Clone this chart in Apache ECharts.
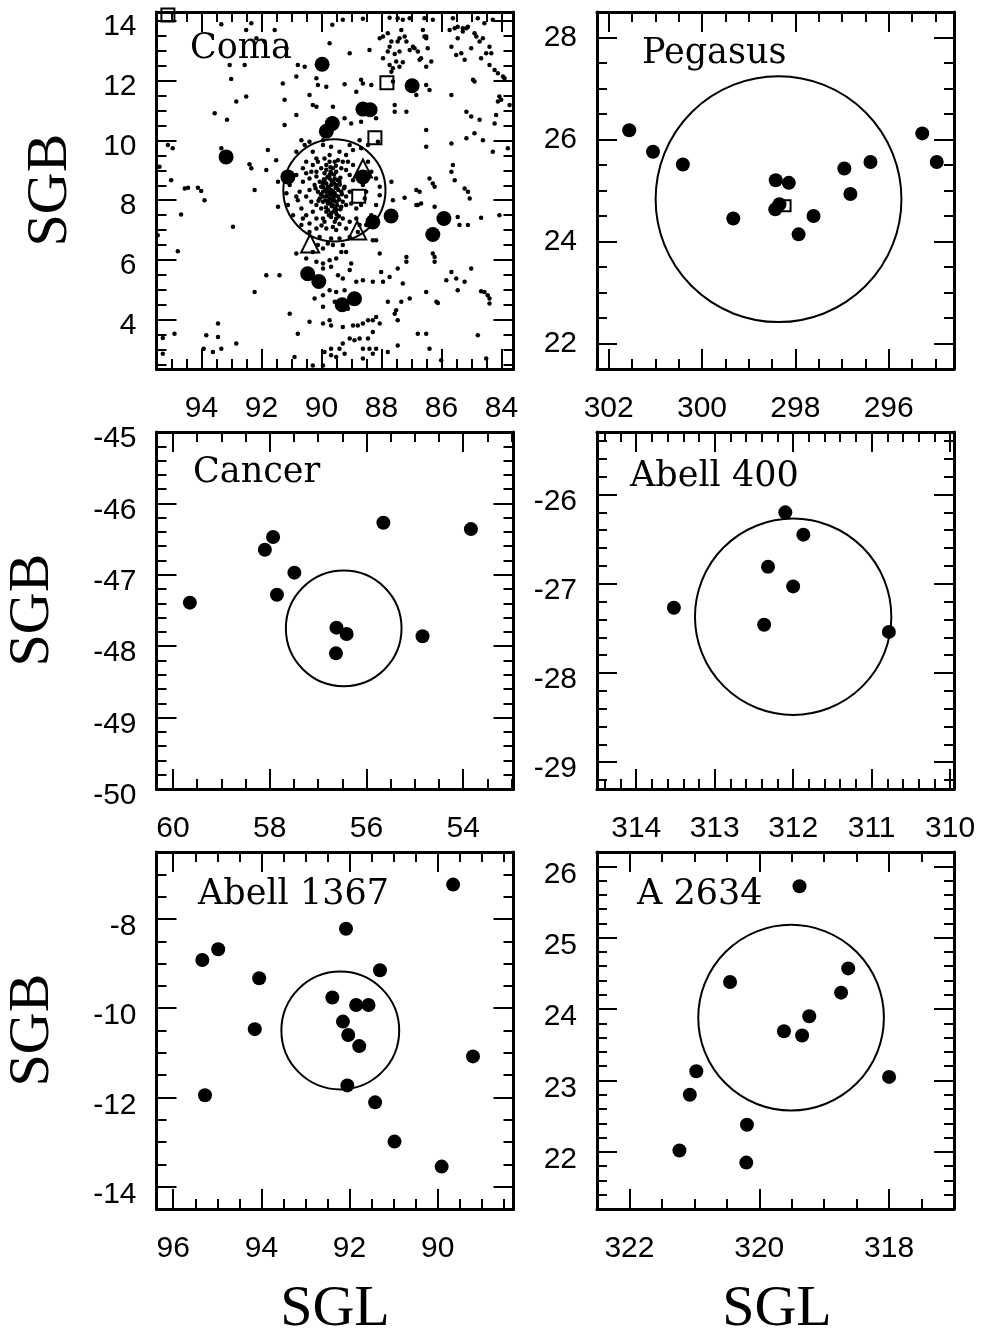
<!DOCTYPE html>
<html>
<head>
<meta charset="utf-8">
<script src="https://cdn.jsdelivr.net/npm/echarts@6/dist/echarts.min.js"></script>
<style>
  html, body { margin: 0; padding: 0; background: #fff; }
  #chart { width: 984px; height: 1336px; }
</style>
</head>
<body>
<div id="chart"></div>
<script>
// ---------------- Coma ----------------
// faint galaxies of the field (SGL, SGB)
const comaGalaxies = [
  [93.34,13.89],[92.51,13.70],[92.34,13.92],[91.56,13.70],[89.64,13.87],[89.29,14.04],[88.62,14.07],[87.73,14.11],[87.46,14.09],[87.29,14.04],
  [87.06,14.09],[86.57,14.09],[86.29,14.04],[85.62,14.09],[85.46,13.81],[85.29,13.76],[85.12,13.81],[84.79,14.09],[84.57,13.92],[84.29,14.04],
  [87.95,13.48],[87.79,13.59],[87.34,13.70],[87.23,13.48],[86.62,13.70],[86.51,13.48],[84.90,13.59],[84.62,13.42],
  [93.06,12.53],[92.56,12.53],[92.17,13.42],[91.90,13.31],[91.17,13.09],[90.79,12.53],[90.56,12.47],[89.73,13.25],[89.06,12.92],[88.40,13.03],
  [88.06,13.42],[87.73,13.14],[87.56,12.89],[87.46,13.31],[87.40,12.98],[87.17,13.31],[86.95,13.14],[86.79,12.98],[86.68,12.75],[86.51,13.42],
  [86.46,13.09],[86.34,12.64],[85.67,13.14],[85.46,13.42],[85.34,12.92],[85.01,13.09],[84.68,12.75],[84.51,12.92],[84.40,13.14],[84.34,12.92],
  [84.40,12.53],[84.23,12.36],[87.51,12.64],[87.29,12.62],[87.73,12.53],[87.95,12.75],
  [87.67,13.31],[87.79,12.98],[87.40,13.42],[87.06,13.03],[86.90,13.09],[86.73,12.70],[86.57,13.48],[87.40,12.47],[87.62,12.42],[86.51,12.47],
  [85.73,13.70],[85.56,13.76],[85.29,13.65],[85.17,13.76],[85.51,12.86],[85.23,12.70],[84.84,13.48],[84.73,13.31],[84.12,12.25],[83.95,12.14],
  [84.90,11.97],[84.01,11.36],
  [93.01,12.06],[92.84,11.30],[92.51,11.47],[91.29,11.91],[91.23,11.36],[90.84,12.14],[90.40,11.52],[90.29,11.19],[90.17,12.08],[90.12,11.86],
  [89.84,11.80],[89.23,11.88],[88.84,11.63],[88.68,12.03],[88.62,11.91],[88.34,11.86],[87.67,12.30],[87.62,11.97],[87.56,11.19],[86.84,11.52],
  [86.51,11.86],[86.40,11.69],[85.67,11.52],[84.95,12.03],[84.12,11.30],[83.90,12.08],[83.73,11.19],[84.07,11.47],
  [93.56,10.91],[93.15,10.69],[91.23,10.52],[90.84,10.85],[90.17,11.13],[89.62,11.13],[89.23,10.74],[89.01,10.57],[88.68,10.63],[88.18,10.74],
  [87.56,10.96],[87.17,10.96],[86.51,10.35],[85.17,10.96],[85.01,10.80],[84.73,10.69],[84.23,10.57],[84.18,10.85],
  [95.12,9.85],[94.96,9.74],[93.34,9.74],[92.40,9.20],[92.34,9.07],[91.79,9.68],[91.51,9.34],[91.84,9.01],[90.67,10.01],[90.40,9.96],
  [89.95,10.01],[89.06,9.85],[88.73,10.01],[88.45,9.85],[88.12,9.96],[86.51,9.79],[85.67,9.90],[85.17,10.07],[84.90,10.24],[84.62,10.01],
  [84.29,9.62],[83.79,9.74],[95.40,9.12],
  [95.01,8.67],[94.56,8.39],[94.45,8.42],[94.12,8.42],[94.01,8.31],[93.90,8.00],[92.23,8.34],[91.45,8.62],[91.45,7.78],[87.67,8.62],
  [87.23,8.08],[86.84,8.34],[86.73,8.28],[86.84,7.84],[86.40,8.73],[86.29,8.56],[86.23,8.45],[85.62,9.18],[85.67,8.95],[85.56,8.67],
  [85.23,8.39],[85.12,8.28],[85.06,8.06],[87.62,8.00],[86.68,7.89],
  [94.68,7.52],[92.95,7.11],[86.79,7.84],[86.23,7.78],[85.12,7.17],[84.68,7.41],[84.07,7.50],[85.46,7.44],[85.40,7.17],[95.46,6.83],
  [94.79,6.29],[90.84,6.22],[89.95,5.88],[89.73,5.99],[89.51,6.05],[89.34,6.27],[89.01,5.88],[88.29,6.66],[88.18,6.66],[88.06,6.22],
  [87.46,5.71],[87.17,6.10],[87.17,5.94],[86.29,6.22],[86.23,6.10],[86.23,5.94],[85.01,5.71],
  [91.84,5.49],[91.40,5.49],[89.45,5.49],[89.29,5.38],[89.06,5.66],[88.84,5.27],[88.62,5.32],[88.29,5.27],[88.01,5.60],[87.95,5.27],
  [87.73,5.43],[87.29,5.21],[86.51,4.93],[86.12,4.56],[85.84,5.32],[85.67,5.60],[85.51,5.38],[85.23,5.27],[85.46,4.99],[84.68,4.95],
  [84.57,4.93],[84.46,4.82],[84.40,4.71],[84.40,4.54],[92.23,4.93],[90.23,4.71],[89.95,4.82],[89.73,4.99],[89.51,4.93],[89.56,4.60],
  [89.23,4.99],[87.34,4.60],
  [93.45,3.87],[93.84,3.48],[93.45,3.42],[94.90,3.53],[90.79,3.53],[90.40,3.93],[89.95,3.87],[89.73,3.98],[89.68,3.81],[89.29,3.76],
  [89.12,4.37],[88.95,3.81],[88.79,3.81],[88.62,3.87],[88.45,3.98],[88.29,3.98],[88.18,4.09],[88.06,3.87],[87.79,4.60],[87.51,4.32],
  [87.46,3.98],[87.06,4.71],[86.79,3.53],[86.51,3.53],[86.17,4.60],[84.79,3.48],[89.95,4.43],[87.56,4.20],[88.29,3.59],[91.06,4.20],
  [95.29,3.39],
  [95.29,2.86],[93.93,3.03],[93.62,2.92],[93.34,3.03],[92.84,3.20],[90.90,2.75],[89.90,2.92],[89.68,2.81],[89.51,2.75],[89.68,3.03],
  [89.40,3.03],[89.29,3.20],[89.06,3.37],[88.90,3.31],[88.73,3.37],[88.45,3.37],[88.18,3.03],[87.79,2.92],[87.46,3.14],[86.40,3.03],
  [86.01,2.64],[84.51,2.70],[90.29,2.47],[89.95,2.47],[89.23,2.86],[88.62,3.03],[88.40,3.03],[88.29,2.86],[88.62,2.70],
  // cluster core
  [90.84,9.62],[90.56,9.85],[90.29,9.62],[90.17,9.40],[90.51,9.29],[89.95,9.85],[89.68,9.79],[89.40,9.62],[89.18,9.51],[88.95,9.68],
  [88.68,9.74],[88.45,9.29],[88.34,8.95],[88.18,8.73],[88.06,8.45],[88.06,8.17],[88.18,7.84],[88.34,7.50],[88.51,7.17],[88.79,6.94],
  [89.06,6.77],[89.40,6.72],[89.68,6.72],[90.06,6.77],[90.40,6.94],[90.67,7.17],[90.95,7.50],[91.12,7.84],[91.17,8.23],[91.06,8.51],
  [90.84,8.84],[90.62,9.07],[90.17,8.95],[90.01,9.07],[89.84,9.18],[89.73,9.29],[89.62,9.07],[89.51,8.95],[89.34,9.07],[89.18,9.01],
  [89.06,8.84],[88.95,8.67],[89.06,8.28],[89.23,8.45],[89.40,8.62],[89.56,8.73],[89.73,8.73],[89.90,8.67],[90.06,8.62],[90.23,8.51],
  [90.40,8.34],[90.51,8.12],[90.34,7.95],[90.17,7.84],[90.01,7.72],[89.84,7.61],[89.68,7.56],[89.51,7.67],[89.34,7.78],[89.18,7.84],
  [89.01,7.89],[88.84,7.72],[88.68,7.84],[88.56,8.06],[88.51,8.28],[88.62,8.51],[89.84,8.28],[89.68,8.34],[89.56,8.23],[89.45,8.12],
  [89.73,8.06],[89.95,8.12],[89.62,7.84],[89.79,7.89],[90.06,8.06],[90.12,8.28],[90.29,7.61],[90.51,7.50],[90.67,7.72],[90.79,8.00],
  [90.73,8.28],[90.62,8.62],[90.40,8.73],[90.17,8.79],[89.90,8.90],[89.68,8.90],[89.45,9.34],[89.29,9.29],[89.12,9.29],[88.95,9.18],
  [90.29,9.18],[90.51,8.90],[90.84,8.12],[90.62,7.39],[90.17,7.39],[89.95,7.39],[89.51,7.39],[89.29,7.39],[89.06,7.28],[88.84,7.39],
  [88.73,7.17],[89.18,7.05],[89.51,7.00],[89.84,7.05],[90.17,7.05],[90.40,7.22],[89.68,8.51],[89.53,8.42],[89.79,8.45],[89.64,8.00],
  [89.49,7.95],[89.34,8.28],[89.18,8.12],[89.95,8.45],[89.73,9.51],[89.90,9.40],[89.56,9.29],[90.12,9.29],[90.34,8.95],
  [89.73,8.84],[89.62,8.62],[89.51,8.51],[89.84,8.56],[89.64,8.19],[89.75,8.28],[89.60,8.08],[89.87,8.00],[89.44,8.34],[89.71,7.89],
  [89.55,7.72],[89.95,8.28],[89.37,8.75],[90.01,8.45],[89.29,7.95],[89.75,7.50],[89.90,7.28],[89.56,7.28],
  [89.70,8.95],[89.58,8.86],[89.80,8.78],[89.47,8.68],[89.66,8.64],[89.92,8.70],[89.39,8.52],[89.58,8.55],[89.76,8.40],[89.88,8.36],
  [89.47,8.38],[89.62,8.30],[89.71,8.18],[89.52,8.15],[89.83,8.14],[89.41,8.02],[89.58,7.98],[89.78,7.98],[89.95,7.95],[89.48,7.82],
  [89.66,7.80],[89.85,7.76],[89.37,7.70],[89.60,7.62],[89.78,7.66],[89.50,7.54],[89.68,7.44],[89.42,7.46],[90.02,8.20],[90.10,7.98],
  [89.32,8.20],[89.25,8.40],[89.96,8.58],[90.20,8.40],[89.70,9.10],[89.52,9.15],[89.84,9.02],[89.62,7.10],[89.40,7.20],[90.00,7.15],
  // filament running south of the core
  [90.12,6.50],[89.95,6.38],[89.79,6.55],[89.62,6.50],[89.29,6.50],[89.18,6.27],[90.17,5.94],[89.95,5.71],[89.68,5.77],[90.29,6.27],
  [90.51,6.05]
];
const comaBright = [
  [89.98,12.55],[86.98,11.83],[88.62,11.05],[88.38,11.03],[89.64,10.57],[89.84,10.31],[93.18,9.45],[91.12,8.78],[88.62,8.78],
  [87.68,7.47],[88.29,7.27],[85.92,7.39],[86.29,6.85],[90.46,5.54],[90.09,5.28],[89.31,4.50],[88.90,4.70]
];
const comaSquares = [[87.82,11.93],[88.22,10.09],[88.76,8.13],[95.12,14.20]];
const comaTriangles = [[88.62,9.06],[88.81,6.99],[90.38,6.55]];
const comaRing = [[89.57,8.33,1.71]];          // centre SGL, SGB, radius (deg)
const comaXTicks = [84,86,88,90,92,94];
const comaYTicks = [4,6,8,10,12,14];

// ---------------- Pegasus ----------------
const pegasusBright = [
  [301.56,26.18],[301.05,25.76],[300.41,25.51],[299.33,24.45],[298.42,25.20],[298.14,25.15],[298.34,24.73],[298.43,24.63],
  [297.93,24.14],[297.61,24.50],[296.95,25.43],[296.82,24.93],[296.39,25.56],[295.28,26.12],[294.97,25.56]
];
const pegasusSquares = [[298.22,24.70]];
const pegasusRing = [[298.36,24.83,2.41]];
const pegasusXTicks = [296,298,300,302];
const pegasusYTicks = [22,24,26,28];

// ---------------- Cancer ----------------
const cancerBright = [
  [59.65,-47.39],[57.93,-46.47],[58.10,-46.65],[57.49,-46.97],[57.85,-47.28],[55.65,-46.27],[53.84,-46.36],
  [56.62,-47.74],[56.41,-47.83],[56.63,-48.10],[54.84,-47.86]
];
const cancerRing = [[56.47,-47.75,0.81]];
const cancerXTicks = [54,56,58,60];
const cancerYTicks = [-50,-49,-48,-47,-46,-45];

// ---------------- Abell 400 ----------------
const a400Bright = [
  [313.52,-27.27],[312.10,-26.20],[311.87,-26.45],[312.32,-26.81],[312.00,-27.03],[312.37,-27.46],[310.78,-27.54]
];
const a400Ring = [[312.00,-27.37,1.10]];
const a400XTicks = [310,311,312,313,314];
const a400YTicks = [-29,-28,-27,-26];

// ---------------- Abell 1367 ----------------
const a1367Bright = [
  [95.34,-8.92],[94.98,-8.68],[95.28,-11.95],[94.05,-9.33],[94.15,-10.47],[92.08,-8.22],[91.31,-9.15],[92.39,-9.76],
  [91.85,-9.93],[91.57,-9.93],[92.15,-10.30],[92.03,-10.60],[91.78,-10.85],[92.05,-11.73],[91.42,-12.11],[90.98,-12.99],
  [89.91,-13.55],[89.65,-7.23],[89.20,-11.08]
];
const a1367Ring = [[92.21,-10.50,1.32]];
const a1367XTicks = [90,92,94,96];
const a1367YTicks = [-14,-12,-10,-8];

// ---------------- A 2634 ----------------
const a2634Bright = [
  [319.38,25.72],[320.45,24.38],[318.63,24.57],[318.74,24.23],[319.23,23.90],[319.62,23.69],[319.34,23.63],
  [320.97,23.13],[321.07,22.80],[320.19,22.38],[321.23,22.02],[320.20,21.85],[318.00,23.05]
];
const a2634Ring = [[319.51,23.88,1.30]];
const a2634XTicks = [318,320,322];
const a2634YTicks = [22,23,24,25,26];

// ---------------- layout ----------------
const TICK_FONT = '"Liberation Sans", Arial, sans-serif';
const BOX = 357;
const panels = [
  { name: 'Coma', left: 156.5, top: 12, x: [83.6, 95.5], y: [2.35, 14.3], xTicks: comaXTicks, yTicks: comaYTicks,
    xMinor: 0.5, yMinor: 0.5, drop: 6, title: [190, 49], dot: 15,
    faint: comaGalaxies, bright: comaBright, squares: comaSquares, triangles: comaTriangles, ring: comaRing },
  { name: 'Pegasus', left: 597, top: 12, x: [294.6, 302.25], y: [21.5, 28.5], xTicks: pegasusXTicks, yTicks: pegasusYTicks,
    xMinor: 0.5, yMinor: 0.5, drop: 0, title: [642, 54], dot: 14,
    bright: pegasusBright, squares: pegasusSquares, ring: pegasusRing },
  { name: 'Cancer', left: 156.5, top: 432, x: [52.96, 60.34], y: [-50, -45], xTicks: cancerXTicks, yTicks: cancerYTicks,
    xMinor: 0.5, yMinor: 0.2, drop: 7, title: [193, 473], dot: 14,
    bright: cancerBright, ring: cancerRing },
  { name: 'Abell 400', left: 597, top: 432, x: [309.95, 314.5], y: [-29.3, -25.3], xTicks: a400XTicks, yTicks: a400YTicks,
    xMinor: 0.2, yMinor: 0.2, drop: 7, title: [630, 477], dot: 14,
    bright: a400Bright, ring: a400Ring },
  { name: 'Abell 1367', left: 156.5, top: 852, x: [88.28, 96.38], y: [-14.5, -6.5], xTicks: a1367XTicks, yTicks: a1367YTicks,
    xMinor: 0.5, yMinor: 0.5, drop: 8, title: [198, 895], dot: 14,
    bright: a1367Bright, ring: a1367Ring },
  { name: 'A 2634', left: 597, top: 852, x: [317.0, 322.5], y: [21.2, 26.2], xTicks: a2634XTicks, yTicks: a2634YTicks,
    xMinor: 0.5, yMinor: 0.2, drop: 8, title: [637, 895], dot: 14,
    bright: a2634Bright, ring: a2634Ring }
];

// minor tick positions between the axis limits
function steps(lo, hi, step) {
  const out = [];
  for (let v = Math.ceil(lo / step - 1e-9) * step; v <= hi + 1e-9; v += step) {
    out.push(Math.round(v * 1000) / 1000);
  }
  return out;
}

const grids = [], xAxes = [], yAxes = [], series = [], graphics = [];

function labelStyle(major, isX, drop) {
  const s = { show: true, customValues: major, margin: isX ? 25 : 20, color: '#000',
    fontSize: 30, fontFamily: TICK_FONT };
  if (!isX && drop > 0) {
    // the y labels sit a little below their ticks
    s.verticalAlign = 'top';
    s.lineHeight = drop * 2;
  }
  return s;
}

function axisSet(gi, range, inverse, sides, major, minor, isX, drop) {
  const list = [];
  sides.forEach(function (pos, k) {
    const common = {
      gridIndex: gi, type: 'value', min: range[0], max: range[1], inverse: inverse, position: pos,
      splitLine: { show: false }, splitArea: { show: false }
    };
    // major ticks (carry the frame line and, on the first side, the labels)
    list.push(Object.assign({}, common, {
      axisLine: { show: true, onZero: false, lineStyle: { color: '#000', width: 3 } },
      axisTick: { show: true, inside: true, length: 20, customValues: major, lineStyle: { color: '#000', width: 2 } },
      axisLabel: k === 0 ? labelStyle(major, isX, drop) : { show: false }
    }));
    // minor ticks
    list.push(Object.assign({}, common, {
      axisLine: { show: false, onZero: false },
      axisTick: { show: true, inside: true, length: 10, customValues: minor, lineStyle: { color: '#000', width: 2 } },
      axisLabel: { show: false }
    }));
  });
  return list;
}

const solid = { color: '#000', opacity: 1 };
const hollow = { color: 'rgba(0,0,0,0)', borderColor: '#000', borderWidth: 2, opacity: 1 };

panels.forEach(function (p, gi) {
  grids.push({ left: p.left, top: p.top, width: BOX, height: BOX });
  const xi = xAxes.length, yi = yAxes.length;
  axisSet(gi, p.x, true, ['bottom', 'top'], p.xTicks, steps(p.x[0], p.x[1], p.xMinor), true, 0)
    .forEach(function (a) { xAxes.push(a); });
  axisSet(gi, p.y, false, ['left', 'right'], p.yTicks, steps(p.y[0], p.y[1], p.yMinor), false, p.drop)
    .forEach(function (a) { yAxes.push(a); });

  const on = { xAxisIndex: xi, yAxisIndex: yi, silent: true, animation: false };
  if (p.faint) {
    series.push(Object.assign({ type: 'scatter', data: p.faint, symbol: 'circle', symbolSize: 4.5,
      itemStyle: solid }, on));
  }
  series.push(Object.assign({ type: 'scatter', data: p.bright, symbol: 'circle', symbolSize: p.dot,
    itemStyle: solid }, on));
  if (p.squares) {
    series.push(Object.assign({ type: 'scatter', data: p.squares, symbol: 'rect', symbolSize: gi === 0 ? 13 : 11,
      itemStyle: hollow }, on));
  }
  if (p.triangles) {
    series.push(Object.assign({ type: 'scatter', data: p.triangles, symbol: 'triangle', symbolSize: 18,
      itemStyle: hollow }, on));
  }
  // cluster radius ring: centre and radius taken through the panel's own scales
  series.push(Object.assign({
    type: 'custom', data: p.ring, clip: false, encode: { x: 0, y: 1 },
    renderItem: function (params, api) {
      const c = api.coord([api.value(0), api.value(1)]);
      const e = api.coord([api.value(0), api.value(1) + api.value(2)]);
      return {
        type: 'circle',
        shape: { cx: c[0], cy: c[1], r: Math.abs(e[1] - c[1]) },
        style: { fill: 'none', stroke: '#000', lineWidth: 2 }
      };
    }
  }, on));

  graphics.push({
    type: 'text', x: p.title[0], y: p.title[1], z: 100,
    style: { text: p.name, font: '35px "DejaVu Serif", serif', fill: '#000',
      textAlign: 'left', textVerticalAlign: 'middle', align: 'left', verticalAlign: 'middle' }
  });
});

// axis names
const AXIS_FONT = '58px "Liberation Serif", "Times New Roman", serif';
[[51, 190], [33, 610], [33, 1030]].forEach(function (pt) {
  graphics.push({ type: 'text', x: pt[0], y: pt[1], rotation: Math.PI / 2,
    style: { text: 'SGB', font: AXIS_FONT, fill: '#000', textAlign: 'center', textVerticalAlign: 'middle',
      align: 'center', verticalAlign: 'middle' } });
});
[[335, 1310], [777, 1310]].forEach(function (pt) {
  graphics.push({ type: 'text', x: pt[0], y: pt[1],
    style: { text: 'SGL', font: AXIS_FONT, fill: '#000', textAlign: 'center', textVerticalAlign: 'middle',
      align: 'center', verticalAlign: 'middle' } });
});

const chart = echarts.init(document.getElementById('chart'), null, { renderer: 'canvas' });
chart.setOption({
  backgroundColor: '#fff',
  animation: false,
  grid: grids,
  xAxis: xAxes,
  yAxis: yAxes,
  series: series,
  graphic: graphics
});
</script>
</body>
</html>
